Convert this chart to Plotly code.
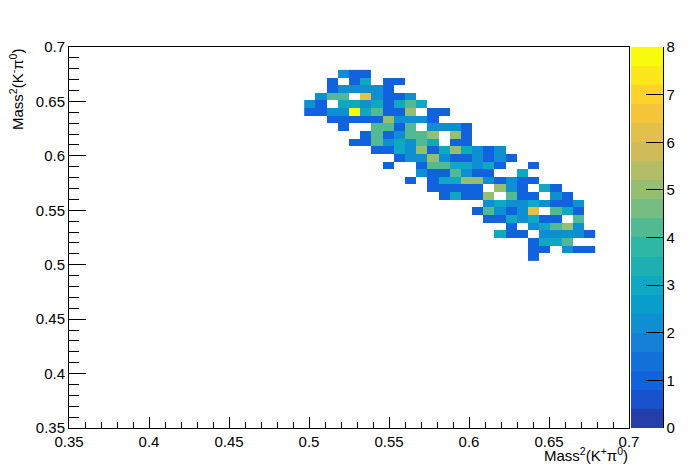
"""Dalitz-like 2D histogram of K pi masses, ROOT style with kBird palette."""

import numpy as np
import plotly.graph_objects as go

# bin layout: 50 x 50 bins between 0.35 and 0.7
AXIS_MIN = 0.35
AXIS_MAX = 0.7
N_BINS = 50
FIRST_COL = 21
FIRST_ROW_FROM_TOP = 3

# counts, top row first, 0 = empty bin (columns 21..46)
counts = [
    [0, 0, 0, 2, 1, 1, 0, 0, 0, 0, 0, 0, 0, 0, 0, 0, 0, 0, 0, 0, 0, 0, 0, 0, 0, 0],
    [0, 0, 1, 0, 1, 3, 0, 1, 1, 0, 0, 0, 0, 0, 0, 0, 0, 0, 0, 0, 0, 0, 0, 0, 0, 0],
    [0, 0, 1, 2, 2, 2, 2, 1, 0, 0, 0, 0, 0, 0, 0, 0, 0, 0, 0, 0, 0, 0, 0, 0, 0, 0],
    [0, 2, 4, 4, 0, 6, 2, 1, 1, 2, 0, 0, 0, 0, 0, 0, 0, 0, 0, 0, 0, 0, 0, 0, 0, 0],
    [2, 1, 0, 3, 3, 2, 3, 1, 3, 4, 3, 0, 0, 0, 0, 0, 0, 0, 0, 0, 0, 0, 0, 0, 0, 0],
    [1, 1, 2, 2, 8, 3, 4, 1, 1, 5, 0, 1, 1, 0, 0, 0, 0, 0, 0, 0, 0, 0, 0, 0, 0, 0],
    [0, 0, 1, 1, 1, 1, 1, 5, 2, 2, 2, 1, 0, 0, 0, 0, 0, 0, 0, 0, 0, 0, 0, 0, 0, 0],
    [0, 0, 0, 1, 0, 0, 4, 4, 1, 4, 0, 2, 2, 2, 1, 0, 0, 0, 0, 0, 0, 0, 0, 0, 0, 0],
    [0, 0, 0, 0, 0, 1, 4, 1, 2, 4, 4, 5, 0, 5, 1, 0, 0, 0, 0, 0, 0, 0, 0, 0, 0, 0],
    [0, 0, 0, 0, 1, 1, 4, 2, 3, 2, 4, 3, 0, 1, 1, 0, 0, 0, 0, 0, 0, 0, 0, 0, 0, 0],
    [0, 0, 0, 0, 0, 0, 1, 1, 3, 2, 5, 1, 3, 5, 3, 2, 1, 2, 0, 0, 0, 0, 0, 0, 0, 0],
    [0, 0, 0, 0, 0, 0, 0, 0, 1, 2, 2, 5, 2, 1, 1, 2, 1, 2, 1, 0, 0, 0, 0, 0, 0, 0],
    [0, 0, 0, 0, 0, 0, 0, 1, 0, 0, 1, 4, 4, 3, 3, 2, 3, 1, 0, 0, 1, 0, 0, 0, 0, 0],
    [0, 0, 0, 0, 0, 0, 0, 0, 0, 0, 2, 1, 1, 4, 2, 1, 1, 0, 0, 3, 0, 0, 0, 0, 0, 0],
    [0, 0, 0, 0, 0, 0, 0, 0, 0, 1, 0, 1, 3, 3, 5, 5, 2, 1, 2, 1, 1, 0, 0, 0, 0, 0],
    [0, 0, 0, 0, 0, 0, 0, 0, 0, 0, 0, 1, 1, 1, 1, 1, 0, 5, 2, 1, 0, 3, 1, 0, 0, 0],
    [0, 0, 0, 0, 0, 0, 0, 0, 0, 0, 0, 0, 1, 3, 1, 1, 5, 0, 4, 1, 1, 0, 2, 1, 0, 0],
    [0, 0, 0, 0, 0, 0, 0, 0, 0, 0, 0, 0, 0, 0, 0, 0, 2, 3, 2, 2, 3, 2, 1, 1, 2, 0],
    [0, 0, 0, 0, 0, 0, 0, 0, 0, 0, 0, 0, 0, 0, 0, 1, 4, 2, 1, 2, 6, 0, 4, 3, 1, 0],
    [0, 0, 0, 0, 0, 0, 0, 0, 0, 0, 0, 0, 0, 0, 0, 0, 1, 1, 3, 2, 3, 1, 1, 0, 4, 0],
    [0, 0, 0, 0, 0, 0, 0, 0, 0, 0, 0, 0, 0, 0, 0, 0, 0, 0, 1, 0, 2, 3, 4, 5, 2, 0],
    [0, 0, 0, 0, 0, 0, 0, 0, 0, 0, 0, 0, 0, 0, 0, 0, 0, 3, 1, 1, 0, 2, 2, 2, 2, 1],
    [0, 0, 0, 0, 0, 0, 0, 0, 0, 0, 0, 0, 0, 0, 0, 0, 0, 0, 0, 0, 1, 3, 3, 4, 0, 0],
    [0, 0, 0, 0, 0, 0, 0, 0, 0, 0, 0, 0, 0, 0, 0, 0, 0, 0, 0, 0, 1, 1, 0, 2, 1, 1],
    [0, 0, 0, 0, 0, 0, 0, 0, 0, 0, 0, 0, 0, 0, 0, 0, 0, 0, 0, 0, 1, 0, 0, 0, 0, 0],
]

x_ticks = [0.35, 0.4, 0.45, 0.5, 0.55, 0.6, 0.65, 0.7]
z_ticks = [0, 1, 2, 3, 4, 5, 6, 7, 8]

# ROOT kBird palette
bird_stops = [0.0, 0.125, 0.25, 0.375, 0.5, 0.625, 0.75, 0.875, 1.0]
bird_r = [0.2082, 0.0592, 0.0780, 0.0232, 0.1802, 0.5301, 0.8186, 0.9956, 0.9764]
bird_g = [0.1664, 0.3599, 0.5041, 0.6419, 0.7178, 0.7492, 0.7328, 0.7862, 0.9832]
bird_b = [0.5293, 0.8684, 0.8385, 0.7914, 0.6425, 0.4662, 0.3499, 0.1968, 0.0539]
N_LEVELS = 20

FONT = "Liberation Sans, Arial, sans-serif"
FONT_SIZE = 15

# the page body adds 8 px all round, so the margins are 8 px short of the target
BODY_MARGIN = 8
PLOT_W = 560
PLOT_H = 381

bin_width = (AXIS_MAX - AXIS_MIN) / N_BINS

z = np.array(counts, dtype=float)
z[z == 0] = np.nan

x_centers = AXIS_MIN + bin_width * (FIRST_COL + 0.5 + np.arange(z.shape[1]))
y_centers = AXIS_MAX - bin_width * (FIRST_ROW_FROM_TOP + 0.5 + np.arange(z.shape[0]))

# stepped colorscale, one flat band per contour level
colorscale = []
for i in range(N_LEVELS):
    t = (i + 1) / N_LEVELS
    r = round(255 * np.interp(t, bird_stops, bird_r))
    g = round(255 * np.interp(t, bird_stops, bird_g))
    b = round(255 * np.interp(t, bird_stops, bird_b))
    color = f"rgb({r},{g},{b})"
    colorscale.append([i / N_LEVELS, color])
    colorscale.append([(i + 1) / N_LEVELS, color])

fig = go.Figure()
fig.add_trace(
    go.Heatmap(
        x=x_centers,
        y=y_centers,
        z=z,
        zmin=0,
        zmax=8,
        colorscale=colorscale,
        hoverongaps=False,
        colorbar=dict(
            x=(631 - 69) / PLOT_W,
            xanchor="left",
            y=0,
            yanchor="bottom",
            len=1,
            lenmode="fraction",
            thickness=32,
            thicknessmode="pixels",
            xpad=0,
            ypad=0,
            outlinewidth=0,
            ticks="inside",
            ticklen=17,
            tickwidth=1,
            tickcolor="black",
            tickmode="array",
            tickvals=z_ticks,
            ticktext=[str(v) for v in z_ticks],
            tickfont=dict(family=FONT, size=FONT_SIZE, color="black"),
        ),
    )
)

axis_style = dict(
    range=[AXIS_MIN, AXIS_MAX],
    tickmode="array",
    tickvals=x_ticks,
    ticktext=[f"{v:g}" for v in x_ticks],
    ticks="inside",
    tickwidth=1,
    tickcolor="black",
    showgrid=False,
    zeroline=False,
    showline=True,
    linecolor="black",
    linewidth=1,
    mirror=True,
    tickfont=dict(family=FONT, size=FONT_SIZE, color="black"),
)

fig.update_xaxes(
    **axis_style,
    ticklen=11,
    minor=dict(ticks="inside", ticklen=6, tickwidth=1, tickcolor="black", dtick=0.01, tick0=0.35),
)
fig.update_yaxes(
    **axis_style,
    ticklen=17,
    minor=dict(ticks="inside", ticklen=10, tickwidth=1, tickcolor="black", dtick=0.01, tick0=0.35),
)

fig.add_annotation(
    text="Mass<sup>2</sup>(K<sup>+</sup>π<sup>0</sup>)",
    xref="paper", yref="paper",
    x=1.0, y=0,
    xanchor="right", yanchor="top",
    xshift=1,
    yshift=-15,
    showarrow=False,
    font=dict(family=FONT, size=FONT_SIZE, color="black"),
)
fig.add_annotation(
    text="Mass<sup>2</sup>(K<sup>-</sup>π<sup>0</sup>)",
    xref="paper", yref="paper",
    x=0, y=1,
    xanchor="right", yanchor="top",
    xshift=-41,
    textangle=-90,
    showarrow=False,
    font=dict(family=FONT, size=FONT_SIZE, color="black"),
)

# palette axis line on the right of the colour bar
fig.add_shape(
    type="line",
    xref="paper", yref="paper",
    x0=(663.5 - 69) / PLOT_W, x1=(663.5 - 69) / PLOT_W,
    y0=0, y1=1,
    line=dict(color="black", width=1),
)

fig.update_layout(
    width=698 - 2 * BODY_MARGIN,
    height=476 - 2 * BODY_MARGIN,
    margin=dict(
        l=69 - BODY_MARGIN,
        r=698 - 2 * BODY_MARGIN - (69 - BODY_MARGIN) - PLOT_W,
        t=47 - BODY_MARGIN,
        b=476 - 2 * BODY_MARGIN - (47 - BODY_MARGIN) - PLOT_H,
        autoexpand=False,
    ),
    paper_bgcolor="white",
    plot_bgcolor="white",
    font=dict(family=FONT, size=FONT_SIZE, color="black"),
    showlegend=False,
)

fig.write_html("out.html")
